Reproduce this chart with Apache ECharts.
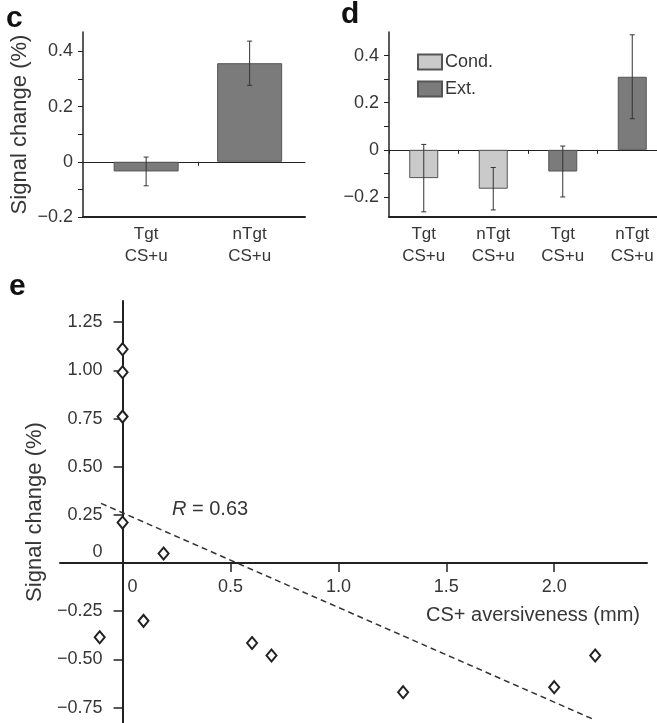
<!DOCTYPE html>
<html>
<head>
<meta charset="utf-8">
<script src="https://cdn.jsdelivr.net/npm/echarts@6/dist/echarts.min.js"></script>
<style>html,body{margin:0;padding:0;background:#fff}#chart{width:657px;height:723px}</style>
</head>
<body>
<div id="chart"></div>
<script>
// ---- data ----
var catsC = ['Tgt\nCS+u', 'nTgt\nCS+u'];
var valsC = [-0.035, 0.357];
var errC = [0.052, 0.08];

var catsD = ['Tgt\nCS+u', 'nTgt\nCS+u', 'Tgt\nCS+u', 'nTgt\nCS+u'];
var condD = [-0.12, -0.165, null, null];
var condErrD = [0.143, 0.09, null, null];
var extD = [null, null, -0.092, 0.31];
var extErrD = [null, null, 0.108, 0.178];

var yTicksCD = [-0.2, -0.1, 0, 0.1, 0.2, 0.3, 0.4];
var yLabelsCD = [-0.2, 0, 0.2, 0.4];

var scatterE = [
  [0, 1.11], [0, 0.99], [0, 0.76], [0, 0.21], [0.19, 0.05],
  [-0.106, -0.385], [0.097, -0.30], [0.60, -0.415], [0.69, -0.48],
  [1.30, -0.67], [2.0, -0.644], [2.19, -0.48]
];
var regLineE = [[-0.1, 0.31], [2.19, -0.815]];
var xLabelsE = [0, 0.5, 1.0, 1.5, 2.0];
var xTicksE = [0.5, 1.0, 1.5, 2.0];
var yLabelsE = [-0.75, -0.5, -0.25, 0, 0.25, 0.5, 0.75, 1.0, 1.25];

// ---- layout of panel e (pixels) ----
var E_LEFT = 60, E_RIGHT = 10, E_TOP = 301, E_BOTTOM = 0, W = 657, H = 723;
var E_XMIN = -0.29, E_XMAX = 2.43, E_YMIN = -0.83, E_YMAX = 1.36;
var eZeroX = E_LEFT + (0 - E_XMIN) / (E_XMAX - E_XMIN) * (W - E_LEFT - E_RIGHT);
var eZeroY = E_TOP + (E_YMAX - 0) / (E_YMAX - E_YMIN) * (H - E_TOP - E_BOTTOM);

// ---- helpers ----
var FONT = 'Liberation Sans, Arial, Helvetica, sans-serif';
var TXT = '#363636';
var AX = '#222';

function minus(s) { return String(s).replace('-', '\u2212'); }
function fmtCD(v) { return v === 0 ? '0' : minus(v.toFixed(1)); }
function fmtE(v) { return v === 0 ? '{z|0}' : minus(v.toFixed(2)); }

function errData(vals, errs) {
  var out = [];
  for (var i = 0; i < vals.length; i++) {
    if (vals[i] != null) out.push([i, vals[i], errs[i]]);
  }
  return out;
}
function errRender(params, api) {
  var x = api.value(0), v = api.value(1), e = api.value(2);
  var p1 = api.coord([x, v + e]);
  var p2 = api.coord([x, v - e]);
  var cap = 2.5;
  var st = { stroke: '#333', lineWidth: 1 };
  return {
    type: 'group',
    children: [
      { type: 'line', shape: { x1: p1[0], y1: p1[1], x2: p2[0], y2: p2[1] }, style: st },
      { type: 'line', shape: { x1: p1[0] - cap, y1: p1[1], x2: p1[0] + cap, y2: p1[1] }, style: st },
      { type: 'line', shape: { x1: p2[0] - cap, y1: p2[1], x2: p2[0] + cap, y2: p2[1] }, style: st }
    ]
  };
}

var catLabelStyle = { color: TXT, fontSize: 17, fontFamily: FONT, lineHeight: 22, margin: 6 };

function bottomCatAxis(gridIndex, cats) {
  return {
    type: 'category', gridIndex: gridIndex, data: cats, position: 'bottom',
    axisLine: { onZero: false, lineStyle: { color: AX, width: 2 } },
    axisTick: { show: false },
    axisLabel: Object.assign({ interval: 0 }, catLabelStyle)
  };
}
function zeroCatAxis(gridIndex, cats) {
  return {
    type: 'category', gridIndex: gridIndex, data: cats, position: 'bottom',
    axisLine: { onZero: true, lineStyle: { color: AX, width: 1 } },
    axisTick: { show: true, length: 4, lineStyle: { color: AX } },
    axisLabel: { show: false }
  };
}
function yAxisCD(gridIndex, min, max, withName) {
  var ax = {
    type: 'value', gridIndex: gridIndex, min: min, max: max, position: 'left',
    splitLine: { show: false },
    axisLine: { show: true, onZero: false, lineStyle: { color: AX, width: 1.5 } },
    axisTick: { show: true, length: 5, customValues: yTicksCD, lineStyle: { color: AX } },
    axisLabel: { color: TXT, fontSize: 18, fontFamily: FONT, margin: 10, customValues: yLabelsCD, formatter: fmtCD }
  };
  if (withName) {
    ax.name = 'Signal change (%)';
    ax.nameLocation = 'middle';
    ax.nameGap = 52;
    ax.nameTextStyle = { color: TXT, fontSize: 22, fontFamily: FONT };
  }
  return ax;
}

// panel c uses a value x-axis whose integer positions are the categories
var C_XMIN = -0.61, C_XMAX = 1.535;
var catIdxC = catsC.map(function (c, i) { return i; });
var barDataC = valsC.map(function (v, i) { return [i, v]; });

var chart = echarts.init(document.getElementById('chart'), null, { renderer: 'canvas' });

var option = {
  backgroundColor: '#fff',
  animation: false,
  textStyle: { fontFamily: FONT },
  grid: [
    { left: 83, width: 222, top: 32, height: 185, outerBoundsMode: 'none', containLabel: false },
    { left: 389, right: -10, top: 32, height: 185, outerBoundsMode: 'none', containLabel: false },
    { left: E_LEFT, right: E_RIGHT, top: E_TOP, bottom: E_BOTTOM, outerBoundsMode: 'none', containLabel: false }
  ],
  legend: {
    left: 412, top: 48, orient: 'vertical', itemWidth: 24, itemHeight: 15, itemGap: 9,
    icon: 'rect',
    textStyle: { color: TXT, fontSize: 18, fontFamily: FONT, padding: [0, 0, 0, -2] },
    data: ['Cond.', 'Ext.']
  },
  xAxis: [
    {
      type: 'value', gridIndex: 0, min: C_XMIN, max: C_XMAX, position: 'bottom',
      splitLine: { show: false },
      axisLine: { onZero: false, lineStyle: { color: AX, width: 2 } },
      axisTick: { show: false },
      axisLabel: Object.assign({ customValues: catIdxC, formatter: function (v) { return catsC[Math.round(v)]; } }, catLabelStyle)
    },
    {
      type: 'value', gridIndex: 0, min: C_XMIN, max: C_XMAX, position: 'bottom',
      splitLine: { show: false },
      axisLine: { onZero: true, lineStyle: { color: AX, width: 1 } },
      axisTick: { show: true, length: 4, customValues: [0.5], lineStyle: { color: AX } },
      axisLabel: { show: false }
    },
    bottomCatAxis(1, catsD),
    zeroCatAxis(1, catsD),
    {
      // axis line + ticks through y = 0
      type: 'value', gridIndex: 2, min: E_XMIN, max: E_XMAX, position: 'bottom',
      splitLine: { show: false },
      axisLine: { onZero: false, lineStyle: { color: AX, width: 2 } },
      axisTick: { show: true, length: 9, customValues: xTicksE, lineStyle: { color: AX, width: 1.5 } },
      axisLabel: {
        color: TXT, fontSize: 18, fontFamily: FONT, margin: 15, customValues: xLabelsE,
        formatter: function (v) { return v === 0 ? '{z|0}' : v.toFixed(1); },
        rich: { z: { fontSize: 18, fontFamily: FONT, color: TXT, padding: [0, 0, 0, 20] } }
      },
      offset: -(H - E_BOTTOM - eZeroY)
    }
  ],
  yAxis: [
    yAxisCD(0, -0.2, 0.47, true),
    yAxisCD(1, -0.285, 0.5, false),
    {
      type: 'value', gridIndex: 2, min: E_YMIN, max: E_YMAX, position: 'left',
      splitLine: { show: false },
      axisLine: { onZero: false, lineStyle: { color: AX, width: 2 } },
      axisTick: { show: true, length: 9, customValues: yLabelsE.filter(function (v) { return v !== 0; }), lineStyle: { color: AX, width: 1.5 } },
      axisLabel: {
        color: TXT, fontSize: 18, fontFamily: FONT, margin: 20, customValues: yLabelsE, formatter: fmtE,
        rich: { z: { fontSize: 18, fontFamily: FONT, color: TXT, padding: [0, 0, 22, 0] } }
      },
      offset: -(eZeroX - E_LEFT),
      name: 'Signal change (%)', nameLocation: 'middle', nameGap: 75,
      nameTextStyle: { color: TXT, fontSize: 22, fontFamily: FONT }
    }
  ],
  series: [
    {
      type: 'bar', xAxisIndex: 0, yAxisIndex: 0, data: barDataC, barWidth: 65,
      itemStyle: { color: '#7b7b7b', borderColor: '#555', borderWidth: 1 }, z: 2
    },
    {
      type: 'custom', xAxisIndex: 0, yAxisIndex: 0, data: errData(valsC, errC),
      renderItem: errRender, z: 5
    },
    {
      name: 'Cond.', type: 'bar', xAxisIndex: 2, yAxisIndex: 1, data: condD, barWidth: 29, barGap: '-100%',
      itemStyle: { color: '#cacaca', borderColor: '#555', borderWidth: 1 }, z: 2
    },
    {
      name: 'Ext.', type: 'bar', xAxisIndex: 2, yAxisIndex: 1, data: extD, barWidth: 29, barGap: '-100%',
      itemStyle: { color: '#7b7b7b', borderColor: '#555', borderWidth: 1 }, z: 2
    },
    {
      type: 'custom', xAxisIndex: 2, yAxisIndex: 1, data: errData(condD, condErrD),
      renderItem: errRender, z: 5
    },
    {
      type: 'custom', xAxisIndex: 2, yAxisIndex: 1, data: errData(extD, extErrD),
      renderItem: errRender, z: 5
    },
    {
      type: 'line', xAxisIndex: 4, yAxisIndex: 2, data: regLineE, symbol: 'none',
      lineStyle: { color: '#333', width: 1.5, type: [6, 4] }, z: 3
    },
    {
      type: 'scatter', xAxisIndex: 4, yAxisIndex: 2, data: scatterE, symbol: 'diamond', symbolSize: [10, 12],
      itemStyle: { color: '#fff', borderColor: '#222', borderWidth: 2, opacity: 1 }, z: 6
    }
  ],
  graphic: [
    { type: 'text', left: 6, top: 4, style: { text: 'c', fontSize: 30, fontWeight: 'bold', fontFamily: FONT, fill: '#111' } },
    { type: 'text', left: 341, top: 0, style: { text: 'd', fontSize: 30, fontWeight: 'bold', fontFamily: FONT, fill: '#111' } },
    { type: 'text', left: 9, top: 272, style: { text: 'e', fontSize: 30, fontWeight: 'bold', fontFamily: FONT, fill: '#111' } },
    { type: 'text', x: 172, y: 509, style: { text: '{i|R} = 0.63', fontSize: 20, fontFamily: FONT, fill: TXT, verticalAlign: 'middle',
        rich: { i: { fontStyle: 'italic', fontSize: 20, fontFamily: FONT, fill: TXT } } } },
    { type: 'text', x: 640, y: 615, style: { text: 'CS+ aversiveness (mm)', fontSize: 20, fontFamily: FONT, fill: TXT, align: 'right', verticalAlign: 'middle' } }
  ]
};
chart.setOption(option);
</script>
</body>
</html>
